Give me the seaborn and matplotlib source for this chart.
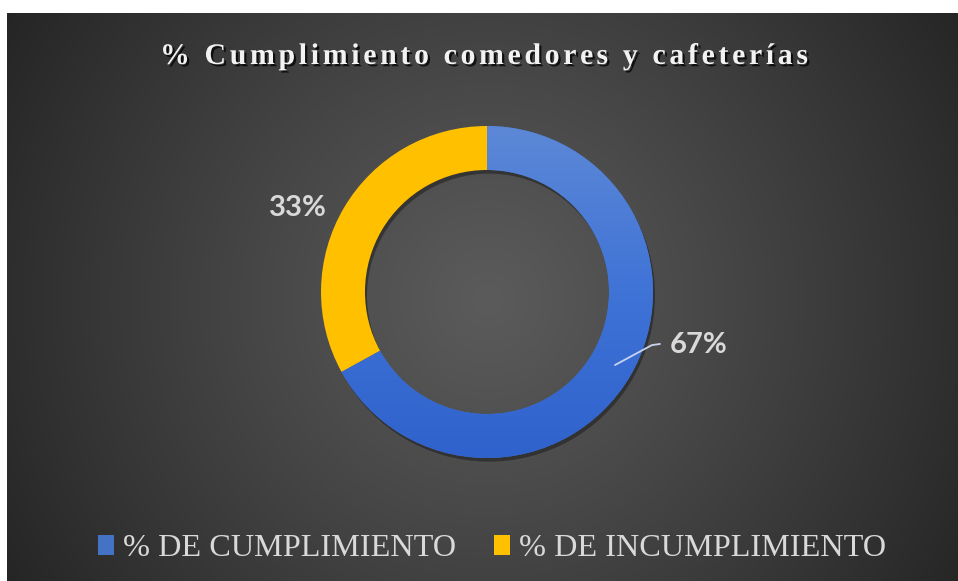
import numpy as np
import matplotlib
matplotlib.use("Agg")
import matplotlib.pyplot as plt
import seaborn as sns
from matplotlib import patheffects as pe
from matplotlib.patches import Patch
from matplotlib.colors import LinearSegmentedColormap

# ---- data ----
categories = ["% DE CUMPLIMIENTO", "% DE INCUMPLIMIENTO"]
values = [67, 33]
title_text = "% Cumplimiento comedores y cafeterías"

sns.set_theme(style="dark")
palette = sns.color_palette(["#4472C4", "#FFC000"])
plt.rcParams['font.family'] = ['Liberation Serif', 'DejaVu Sans']

W, H = 958, 581
fig = plt.figure(figsize=(W / 100, H / 100), dpi=100, facecolor="white")

# ---- radial gradient background ----
left_px, top_px = 7, 13
bg = fig.add_axes([left_px / W, 0, 1 - left_px / W, 1 - top_px / H])
bg.axis("off")
xs = np.arange(left_px, W) + 0.5
ys = np.arange(top_px, H) + 0.5
XX, YY = np.meshgrid(xs, ys)
cx, cy = 488, 300
d = np.sqrt((XX - cx) ** 2 + (YY - cy) ** 2) / np.hypot(cx - left_px, cy - top_px)
d = np.clip(d, 0, 1)
v = (0x5b + (0x25 - 0x5b) * d ** 1.1) / 255.0
img = np.dstack([v, v, v])
bg.imshow(img, extent=(0, 1, 0, 1), aspect="auto", origin="upper")
bg.set_xlim(0, 1)
bg.set_ylim(0, 1)

# ---- donut ----
R_px, cxp, cyp = 166, 487, 292
ax = fig.add_axes([(cxp - R_px) / W, (H - cyp - R_px) / H, 2 * R_px / W, 2 * R_px / H])
ring = 0.265
# soft shadow
ax.pie(values, colors=["black", "black"], startangle=90, counterclock=False,
       radius=1, center=(0.012, -0.022),
       wedgeprops=dict(width=ring, edgecolor="none", alpha=0.35))
wedges, _ = ax.pie(values, colors=palette, startangle=90, counterclock=False,
                   radius=1, wedgeprops=dict(width=ring, edgecolor="none"))

# gradient fill for the blue wedge
grad_cm = LinearSegmentedColormap.from_list("b", ["#5d88d6", "#3f73d6", "#2f62cc"])
g = np.linspace(0, 1, 256).reshape(-1, 1)
im = ax.imshow(g, cmap=grad_cm, extent=(-1, 1, -1, 1), origin="upper",
               aspect="auto", zorder=wedges[0].get_zorder() + 0.1)
im.set_clip_path(wedges[0])

ax.set_xlim(-1, 1)
ax.set_ylim(-1, 1)
ax.set_aspect("equal")
ax.axis("off")

# data labels
lab_font = dict(family=["Lato", "DejaVu Sans"], fontsize=21, fontweight="bold", color="#d9d9d9")
ax.text(-1.14, 0.506, f"{values[1]}%", ha="center", va="center", **lab_font)
ax.text(1.275, -0.319, f"{values[0]}%", ha="center", va="center", **lab_font)
ax.plot([0.771, 0.993, 1.042], [-0.44, -0.32, -0.313], color="#c8d4ee",
        lw=1.3, clip_on=False, solid_capstyle="round")

# ---- letter-spaced title ----
renderer = fig.canvas.get_renderer()
tfont = dict(family=["Liberation Serif", "DejaVu Serif"], fontsize=21.5, fontweight="bold")


def text_w(s):
    t = fig.text(0, 0, s, **tfont)
    w = t.get_window_extent(renderer).width
    t.remove()
    return w


sent = text_w("I")
n = len(title_text)
natural = text_w(title_text)
x0, x1 = 160, 808
spacing = ((x1 - x0) - natural) / (n - 1)
base_y = 1 - 64 / H
shadow = [pe.withSimplePatchShadow(offset=(1.6, -1.6), shadow_rgbFace="black", alpha=0.75)]
for i, ch in enumerate(title_text):
    if ch == " ":
        continue
    off = (text_w(title_text[:i] + "I") - sent) if i > 0 else 0
    fig.text((x0 + off + i * spacing) / W, base_y, ch, color="#f2f2f2",
             ha="left", va="baseline", path_effects=shadow, **tfont)

# ---- legend ----
handles = [Patch(facecolor=c, edgecolor="none") for c in palette]
fig.legend(handles, categories, loc="center", bbox_to_anchor=(492 / W, 1 - 549 / H),
           ncol=2, frameon=False, prop=dict(family="Liberation Serif", size=23.2),
           labelcolor="#d9d9d9", handlelength=0.48, handleheight=0.55,
           handletextpad=0.28, columnspacing=1.2, borderpad=0)

fig.savefig("out.png", dpi=100, facecolor="white")
